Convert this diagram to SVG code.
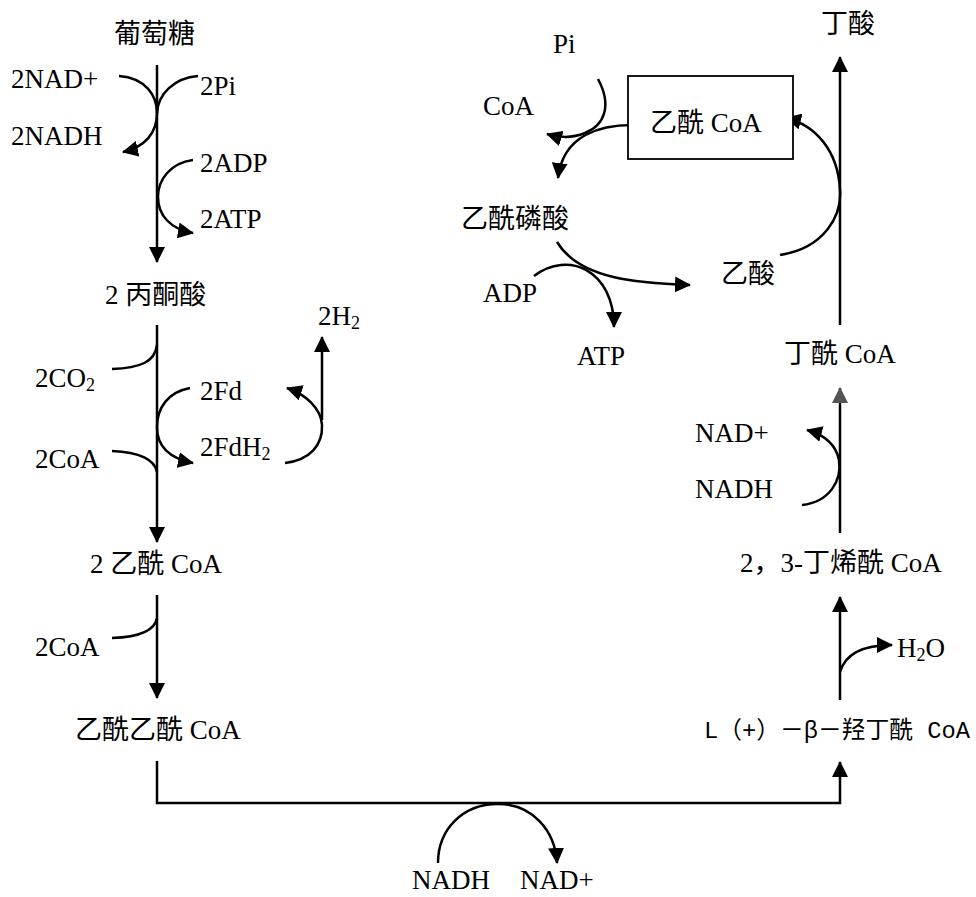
<svg xmlns="http://www.w3.org/2000/svg" width="976" height="897" viewBox="0 0 976 897">
<style>
text{font-family:"Liberation Serif","Noto Sans CJK SC",serif;font-size:27px;fill:#000}
.mono{font-family:"Liberation Mono","Noto Sans CJK SC",monospace;font-size:24px}
.sub{font-size:18px}
.ln{fill:none;stroke:#000;stroke-width:2.5}
.ar{marker-end:url(#ah)}
.box{fill:#fff;stroke:#000;stroke-width:1.8}
</style>
<defs>
<marker id="ah" viewBox="0 0 16 16" refX="15" refY="8" markerWidth="16" markerHeight="16" markerUnits="userSpaceOnUse" orient="auto"><path d="M0,0 L16,8 L0,16 z" fill="#000"/></marker>
<marker id="ahg" viewBox="0 0 16 16" refX="15" refY="8" markerWidth="16" markerHeight="16" markerUnits="userSpaceOnUse" orient="auto"><path d="M0,0 L16,8 L0,16 z" fill="#555"/></marker>
</defs>
<rect width="976" height="897" fill="#fff"/>
<g id="connectors">
<path class="ln ar" d="M157,65 V262"/>
<path class="ln ar" d="M157,325 V542"/>
<path class="ln ar" d="M157,595 V698"/>
<path class="ln ar" d="M157,761 V803 H840 V762"/>
<path class="ln ar" d="M840,700 V597"/>
<path class="ln" d="M840,533 V388" style="marker-end:url(#ahg)"/>
<path class="ln ar" d="M840,325 V57"/>
<path class="ln ar" d="M119,76 C146,78 157,96 157,113 C157,133 145,147 123,152"/>
<path class="ln" d="M198,76 C174,78 158,94 157,113"/>
<path class="ln ar" d="M193,160 C170,163 158,180 158,197 C158,215 170,229 193,233"/>
<path class="ln" d="M112,369 C140,368 155,362 157,345"/>
<path class="ln ar" d="M190,388 C168,392 157,408 157,427 C157,445 168,458 193,463"/>
<path class="ln" d="M112,451 C140,452 155,460 157,472"/>
<path class="ln ar" d="M285,463 C310,460 323,445 322,425 C321,408 305,394 287,388"/>
<path class="ln ar" d="M322,420 V337"/>
<path class="ln" d="M112,638 C140,637 155,630 157,618"/>
<path class="ln ar" d="M438,863 C438,830 462,804 498,804 C532,804 555,830 557,863"/>
<path class="ln ar" d="M598,79 C612,105 605,125 585,133 C573,138 560,138 547,134"/>
<path class="ln ar" d="M637,125 C600,124 563,135 558,178"/>
<path class="ln ar" d="M557,242 C580,280 640,283 690,285"/>
<path class="ln ar" d="M534,276 C568,250 614,270 614,327"/>
<path class="ln ar" d="M780,255 C825,248 842,215 840,190 C838,150 815,125 786,118"/>
<path class="ln ar" d="M802,505 C830,502 842,480 839,460 C836,445 825,435 807,430"/>
<path class="ln ar" d="M840,672 C845,655 862,645 892,645"/>
</g>
<g id="glucose"><text x="114" y="43">葡萄糖</text></g>
<g id="nad1"><text x="11" y="88">2NAD+</text></g>
<g id="pi1"><text x="200" y="95">2Pi</text></g>
<g id="nadh1"><text x="11" y="145">2NADH</text></g>
<g id="adp1"><text x="200" y="172">2ADP</text></g>
<g id="atp1"><text x="200" y="228">2ATP</text></g>
<g id="pyruvate"><text x="105" y="304">2 丙酮酸</text></g>
<g id="h2"><text x="318" y="325">2H<tspan class="sub" dy="4">2</tspan></text></g>
<g id="co2"><text x="35" y="387">2CO<tspan class="sub" dy="4">2</tspan></text></g>
<g id="fd"><text x="200" y="400">2Fd</text></g>
<g id="fdh2"><text x="200" y="456">2FdH<tspan class="sub" dy="4">2</tspan></text></g>
<g id="coa1"><text x="35" y="468">2CoA</text></g>
<g id="acetylcoa2"><text x="90" y="573">2 乙酰 CoA</text></g>
<g id="coa2"><text x="35" y="656">2CoA</text></g>
<g id="acetoacetylcoa"><text x="75" y="739">乙酰乙酰 CoA</text></g>
<g id="nadh-bottom"><text x="412" y="889">NADH</text></g>
<g id="nad-bottom"><text x="520" y="889">NAD+</text></g>
<g id="butyrate"><text x="821" y="33">丁酸</text></g>
<g id="pi2"><text x="553" y="53">Pi</text></g>
<g id="coa3"><text x="483" y="115">CoA</text></g>
<g id="acetylcoa"><rect class="box" x="628" y="76" width="165" height="83"/><text x="650" y="132">乙酰 CoA</text></g>
<g id="acetylphosphate"><text x="461" y="228">乙酰磷酸</text></g>
<g id="adp2"><text x="483" y="302">ADP</text></g>
<g id="atp2"><text x="577" y="365">ATP</text></g>
<g id="acetate"><text x="721" y="283">乙酸</text></g>
<g id="butyrylcoa"><text x="784" y="363">丁酰 CoA</text></g>
<g id="nad2"><text x="695" y="442">NAD+</text></g>
<g id="nadh2"><text x="695" y="498">NADH</text></g>
<g id="crotonylcoa"><text x="740" y="572">2，3-丁烯酰 CoA</text></g>
<g id="h2o"><text x="897" y="657">H<tspan class="sub" dy="4">2</tspan><tspan dy="-4">O</tspan></text></g>
<g id="hydroxybutyrylcoa"><text class="mono" x="704" y="738" textLength="266" lengthAdjust="spacingAndGlyphs">L（+）－β－羟丁酰 CoA</text></g>
</svg>
